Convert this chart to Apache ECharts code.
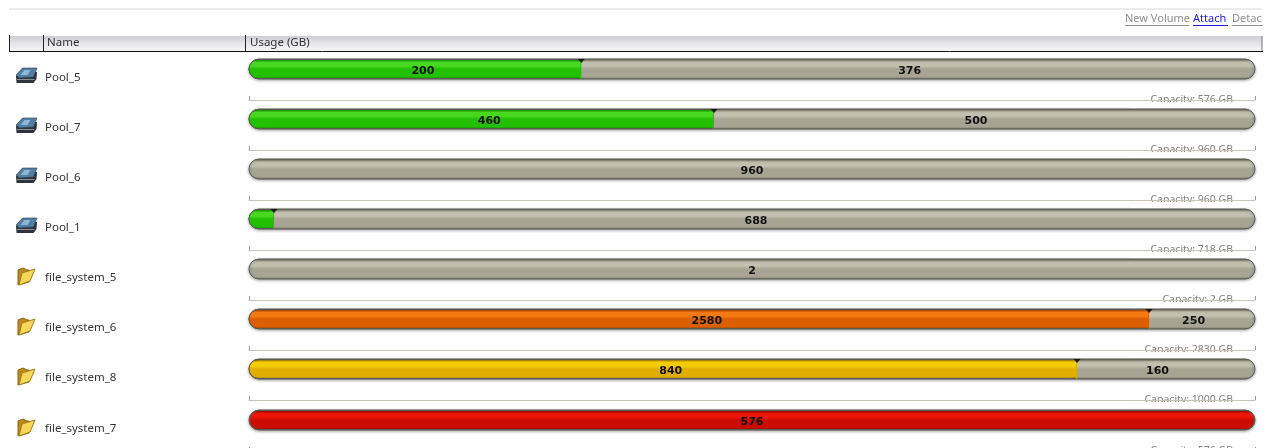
<!DOCTYPE html>
<html><head><meta charset="utf-8">
<style>html,body{margin:0;padding:0;background:#fff}#c{width:1268px;height:448px}</style>
<script src="https://cdn.jsdelivr.net/npm/echarts@6/dist/echarts.min.js"></script>
</head><body><div id="c"></div>
<script>
const names = ['Pool_5','Pool_7','Pool_6','Pool_1','file_system_5','file_system_6','file_system_8','file_system_7'];
const kinds = ['disk','disk','disk','disk','folder','folder','folder','folder'];
const used = [200,460,0,30,0,2580,840,576];
const free = [376,500,960,688,2,250,160,0];
const capacity = [576,960,960,718,2,2830,1000,576];
const usedLabels = ['200','460','','','','2580','840','576'];
const freeLabels = ['376','500','960','688','2','250','160',''];
const status = ['ok','ok','ok','ok','ok','high','warn','full'];
const palette = {
  ok:  ['#48d820','#22c000','#1a9a00'],
  high:['#f57a12','#d95f00','#b04c00'],
  warn:['#f5cc00','#dfae00','#b08a00'],
  full:['#ee1408','#cc0c00','#a00800']
};
const track = ['#c4c0b0','#a8a494','#8a8678'];
const edge = '#5a5a52';
const L = 249, W = 1006, BAR = 20, SHIFT = 17;
const rowTop = i => 59 + 50*i + (i===7?1:0);

function gloss(c){
  return {type:'linear',x:0,y:0,x2:0,y2:1,colorStops:[
    {offset:0,color:edge},{offset:.08,color:c[2]},{offset:.16,color:c[0]},{offset:.36,color:c[0]},
    {offset:.5,color:c[1]},{offset:.88,color:c[1]},{offset:.95,color:c[2]},{offset:1,color:edge}]};
}
const grids=[],xAxes=[],yAxes=[],series=[],graphics=[];
names.forEach((n,i)=>{
  const both = used[i]>0 && free[i]>0;
  const cap = capacity[i];
  const min = both ? cap*SHIFT/W : 0;
  const max = cap+min;
  grids.push({left:L,top:rowTop(i),width:W,height:BAR,outerBoundsMode:'none'});
  xAxes.push({type:'value',gridIndex:i,min,max,position:'bottom',offset:21,
    splitLine:{show:false},axisLabel:{show:false},
    axisLine:{show:true,onZero:false,lineStyle:{color:'#c9c3bc',width:1}},
    axisTick:{show:true,inside:true,length:4,customValues:[min,max],lineStyle:{color:'#999'}},
    name:'Capacity: '+cap+' GB',nameLocation:'end',nameGap:-17,
    nameTextStyle:{color:'#808080',fontFamily:'Noto Sans',fontSize:10.5,align:'right',verticalAlign:'middle',backgroundColor:'#fff',padding:[0,5,0,6]}});
  yAxes.push({type:'category',gridIndex:i,data:[n],inverse:true,axisLine:{show:false},axisTick:{show:false},
    axisLabel:{show:true,align:'left',margin:204,color:'#333',fontFamily:'Noto Sans',fontSize:11.5,verticalAlign:'top',padding:[3,0,0,0]}});
  const c = palette[status[i]];
  const lab = (t,dx)=>({show:!!t,position:'inside',formatter:t,offset:[dx,2],color:'#111',fontFamily:'DejaVu Sans',fontWeight:'bold',fontSize:11});
  const uw = used[i]/cap*W - (both?SHIFT:0);
  const cut = both ? 1-1/Math.max(uw,2) : 1;
  series.push({type:'bar',xAxisIndex:i,yAxisIndex:i,stack:'s'+i,barWidth:BAR,silent:true,z:3,
    data:[used[i]>0?used[i]:null],
    label:lab(usedLabels[i],both?8:0),
    itemStyle:{color:gloss(c),borderWidth:1,
      borderColor: both ? {type:'linear',x:0,y:0,x2:1,y2:0,colorStops:[{offset:0,color:edge},{offset:cut,color:edge},{offset:cut,color:c[1]},{offset:1,color:c[1]}]} : edge,
      borderRadius: both ? [10,0,0,10] : 10}});
  series.push({type:'bar',xAxisIndex:i,yAxisIndex:i,stack:'s'+i,barWidth:BAR,silent:true,z:2,
    data:[free[i]],
    showBackground:true,
    backgroundStyle:{color:gloss(track),borderRadius:10,borderColor:edge,borderWidth:1,opacity:1,shadowBlur:3,shadowColor:'rgba(0,0,0,.35)',shadowOffsetY:1},
    label:lab(freeLabels[i],0),
    itemStyle:{color:'rgba(0,0,0,0)'}});
  if(both){
    series.push({type:'scatter',xAxisIndex:i,yAxisIndex:i,silent:true,z:5,data:[[used[i],n]],
      symbol:'triangle',symbolRotate:180,symbolSize:[7,4],symbolOffset:[0,-8],itemStyle:{color:'#000'}});
  }
  graphics.push({type:'rect',z:100,shape:{x:1130,y:rowTop(i)+43,width:110,height:6},style:{fill:'#fff'}});
  const cy = 76 + 50*i + (i===7?1:0);
  if(kinds[i]==='disk'){
    graphics.push({type:'group',x:26.5,y:cy,z:90,children:[
      {type:'polygon',shape:{points:[[-10.5,0],[-5,-4],[10.5,-4],[10,3],[7,7],[-10,7]]},style:{fill:'#2f333b'}},
      {type:'polygon',shape:{points:[[-10.5,-1],[-4,-8],[10.5,-8],[7,1],[-7,2]]},style:{fill:'#4f7ea6',stroke:'#333a44',lineWidth:.6}},
      {type:'polygon',shape:{points:[[-6,-1],[-2,-6],[4,-6],[1,-1]]},style:{fill:'#8fb6d2'}},
      {type:'polyline',shape:{points:[[-9.5,3.5],[8,3.5]]},style:{stroke:'#8a8f98',lineWidth:1,fill:null}}
    ]});
  } else {
    graphics.push({type:'group',x:26,y:cy,z:90,children:[
      {type:'polygon',shape:{points:[[-8,-6],[-3,-8],[1,-6],[3,-6],[3,6],[-8,9]]},style:{fill:'#b98a1e',stroke:'#8a6412',lineWidth:1}},
      {type:'polygon',shape:{points:[[-4,-3],[9,-7],[4,5],[-7,9]]},style:{fill:'#f6d75a',stroke:'#a67c18',lineWidth:1}}
    ]});
  }
});
graphics.push(
  {type:'line',shape:{x1:9,y1:9,x2:1262,y2:9},style:{stroke:'#d8d8d8',lineWidth:1}},
  {type:'rect',shape:{x:9,y:36,width:1253,height:15},style:{fill:{type:'linear',x:0,y:0,x2:0,y2:1,colorStops:[{offset:0,color:'#cfcdd2'},{offset:.5,color:'#e6e5e8'},{offset:1,color:'#f6f6f7'}]}}},
  {type:'line',shape:{x1:9,y1:51.5,x2:1263,y2:51.5},style:{stroke:'#111',lineWidth:1}},
  ...[9.5,43.5,245.5].map(x=>({type:'line',shape:{x1:x,y1:35,x2:x,y2:51},style:{stroke:'#222',lineWidth:1}})),
  {type:'line',shape:{x1:1262,y1:36,x2:1262,y2:51},style:{stroke:'#777',lineWidth:1}},
  {type:'text',x:47,y:43,style:{text:'Name',fill:'#333',font:'11.5px "Noto Sans"',verticalAlign:'middle'}},
  {type:'text',x:250,y:43,style:{text:'Usage (GB)',fill:'#333',font:'11.5px "Noto Sans"',verticalAlign:'middle'}}
);
[['New Volume',1125,'#909090',64],['Attach',1193,'#1a1aee',35],['Detac',1232,'#909090',31]].forEach(([t,x,col,w])=>{
  graphics.push({type:'text',x,y:19,style:{text:t,fill:col,font:'11px "Noto Sans"',verticalAlign:'middle'}});
  graphics.push({type:'line',shape:{x1:x,y1:25.5,x2:x+w,y2:25.5},style:{stroke:col,lineWidth:1}});
});
const chart = echarts.init(document.getElementById('c'),null,{renderer:'canvas'});
chart.setOption({animation:false,backgroundColor:'#fff',tooltip:{show:false},grid:grids,xAxis:xAxes,yAxis:yAxes,series,graphic:{elements:graphics}});
</script></body></html>
